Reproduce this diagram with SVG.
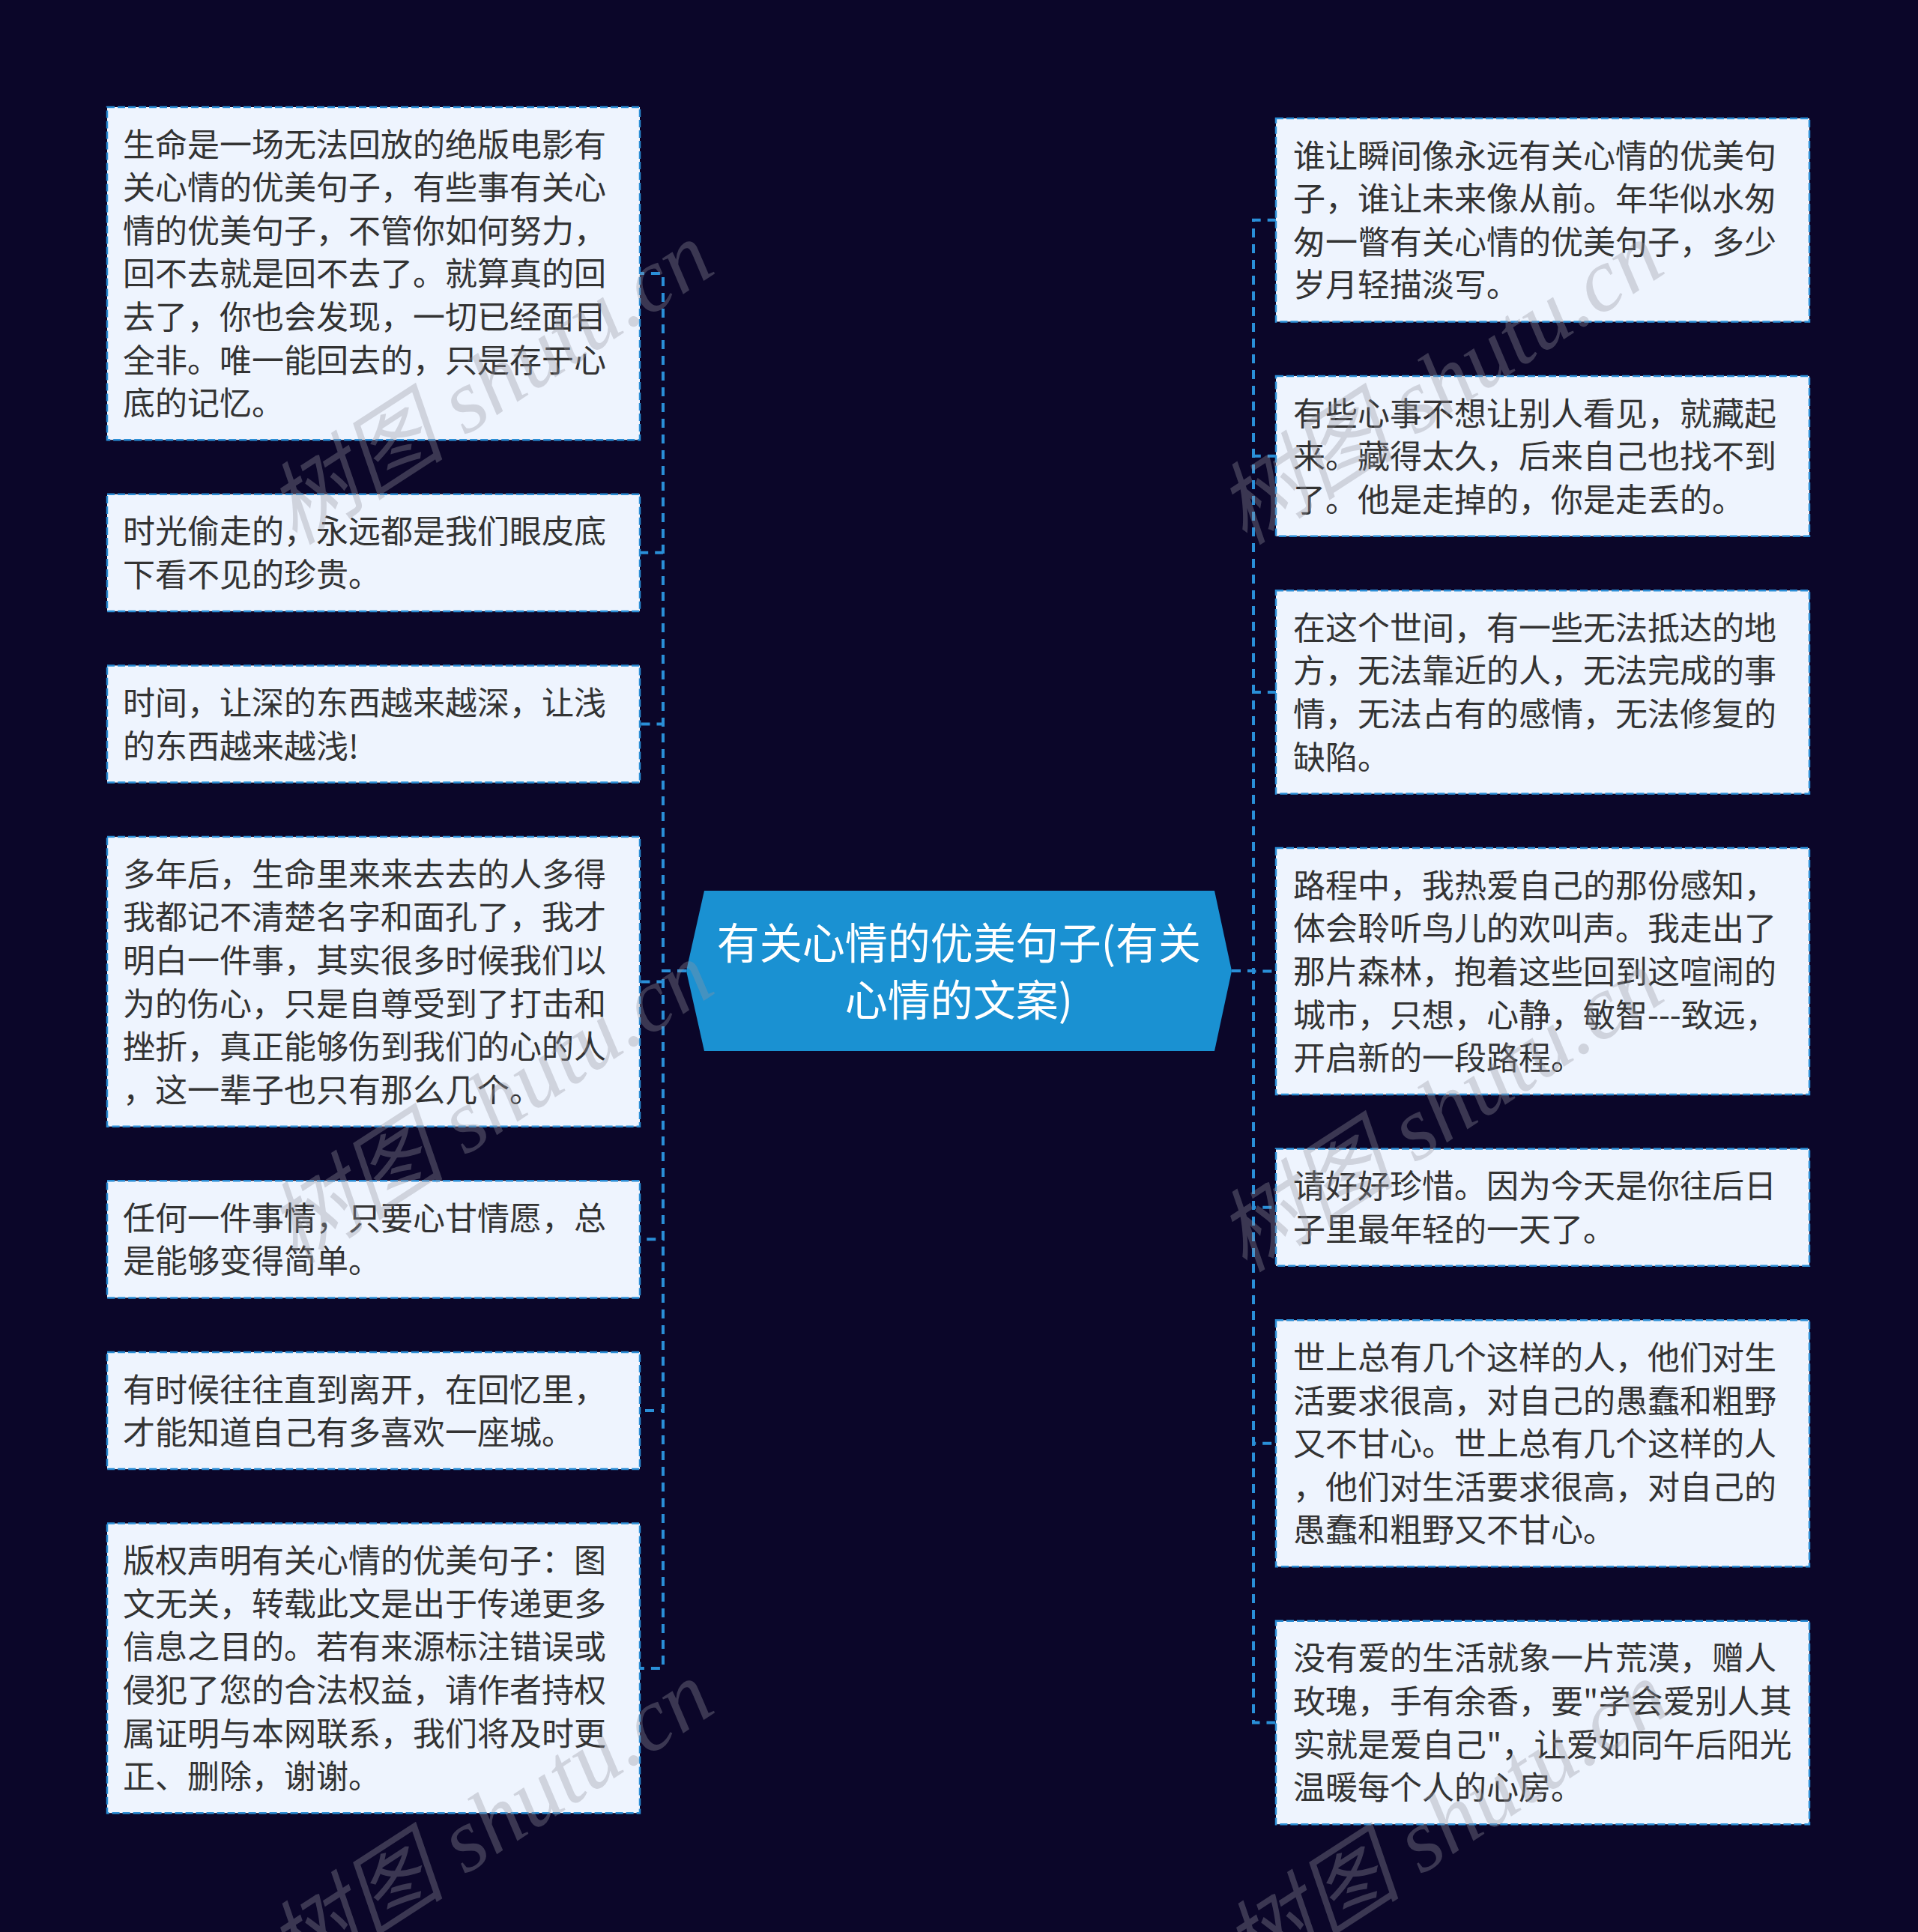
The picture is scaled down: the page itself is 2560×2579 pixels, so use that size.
<svg xmlns="http://www.w3.org/2000/svg" width="2560" height="2579" viewBox="0 0 2560 2579">
<style>
.bg{fill:#0b0629}
.box{fill:#eef4fe;stroke:#2b8ed6;stroke-width:2.5;stroke-dasharray:10 4}
.t{font-family:"Noto Sans CJK SC","Noto Sans",sans-serif;font-size:43px;fill:#333333}
.conn{fill:none;stroke:#2a8fd8;stroke-width:4;stroke-dasharray:12 9}
.ct{font-family:"Noto Sans CJK SC","Noto Sans",sans-serif;font-size:57px;fill:#ffffff;text-anchor:middle}
.wm{font-family:"Liberation Serif","Noto Sans CJK SC",serif;font-style:italic;font-size:120px;fill:#9696a0;fill-opacity:0.35}
</style>
<rect class="bg" x="0" y="0" width="2560" height="2579"/>
<g id="connectors">
<path class="conn" d="M916,1296 H885 V365.1 H854"/>
<path class="conn" d="M916,1296 H885 V737.8 H854"/>
<path class="conn" d="M916,1296 H885 V966.5 H854"/>
<path class="conn" d="M916,1296 H885 V1310.4 H854"/>
<path class="conn" d="M916,1296 H885 V1654.3 H854"/>
<path class="conn" d="M916,1296 H885 V1883 H854"/>
<path class="conn" d="M916,1296 H885 V2226.9 H854"/>
<path class="conn" d="M1644,1296 H1673 V293.7 H1703"/>
<path class="conn" d="M1644,1296 H1673 V608.8 H1703"/>
<path class="conn" d="M1644,1296 H1673 V923.9 H1703"/>
<path class="conn" d="M1644,1296 H1673 V1296.6 H1703"/>
<path class="conn" d="M1644,1296 H1673 V1611.7 H1703"/>
<path class="conn" d="M1644,1296 H1673 V1926.8 H1703"/>
<path class="conn" d="M1644,1296 H1673 V2299.5 H1703"/>
</g>
<g id="center">
<polygon points="940,1189 1621,1189 1644,1296 1621,1403 940,1403 916,1296" fill="#1a91d2"/>
<text class="ct"><tspan x="1280" y="1280">有关心情的优美句子(有关</tspan><tspan x="1280" y="1356">心情的文案)</tspan></text>
</g>
<g id="left1">
<rect class="box" x="143" y="143" width="711" height="444.2"/>
<text class="t"><tspan x="164" y="208.6">生命是一场无法回放的绝版电影有</tspan><tspan x="164" y="266.2">关心情的优美句子，有些事有关心</tspan><tspan x="164" y="323.8">情的优美句子，不管你如何努力，</tspan><tspan x="164" y="381.4">回不去就是回不去了。就算真的回</tspan><tspan x="164" y="439">去了，你也会发现，一切已经面目</tspan><tspan x="164" y="496.6">全非。唯一能回去的，只是存于心</tspan><tspan x="164" y="554.2">底的记忆。</tspan></text>
</g>
<g id="left2">
<rect class="box" x="143" y="659.7" width="711" height="156.2"/>
<text class="t"><tspan x="164" y="725.3">时光偷走的，永远都是我们眼皮底</tspan><tspan x="164" y="782.9">下看不见的珍贵。</tspan></text>
</g>
<g id="left3">
<rect class="box" x="143" y="888.4" width="711" height="156.2"/>
<text class="t"><tspan x="164" y="954">时间，让深的东西越来越深，让浅</tspan><tspan x="164" y="1011.6">的东西越来越浅!</tspan></text>
</g>
<g id="left4">
<rect class="box" x="143" y="1117.1" width="711" height="386.6"/>
<text class="t"><tspan x="164" y="1182.7">多年后，生命里来来去去的人多得</tspan><tspan x="164" y="1240.3">我都记不清楚名字和面孔了，我才</tspan><tspan x="164" y="1297.9">明白一件事，其实很多时候我们以</tspan><tspan x="164" y="1355.5">为的伤心，只是自尊受到了打击和</tspan><tspan x="164" y="1413.1">挫折，真正能够伤到我们的心的人</tspan><tspan x="164" y="1470.7">，这一辈子也只有那么几个。</tspan></text>
</g>
<g id="left5">
<rect class="box" x="143" y="1576.2" width="711" height="156.2"/>
<text class="t"><tspan x="164" y="1641.8">任何一件事情，只要心甘情愿，总</tspan><tspan x="164" y="1699.4">是能够变得简单。</tspan></text>
</g>
<g id="left6">
<rect class="box" x="143" y="1804.9" width="711" height="156.2"/>
<text class="t"><tspan x="164" y="1870.5">有时候往往直到离开，在回忆里，</tspan><tspan x="164" y="1928.1">才能知道自己有多喜欢一座城。</tspan></text>
</g>
<g id="left7">
<rect class="box" x="143" y="2033.6" width="711" height="386.6"/>
<text class="t"><tspan x="164" y="2099.2">版权声明有关心情的优美句子：图</tspan><tspan x="164" y="2156.8">文无关，转载此文是出于传递更多</tspan><tspan x="164" y="2214.4">信息之目的。若有来源标注错误或</tspan><tspan x="164" y="2272">侵犯了您的合法权益，请作者持权</tspan><tspan x="164" y="2329.6">属证明与本网联系，我们将及时更</tspan><tspan x="164" y="2387.2">正、删除，谢谢。</tspan></text>
</g>
<g id="right1">
<rect class="box" x="1703" y="158" width="712" height="271.4"/>
<text class="t"><tspan x="1726" y="223.6">谁让瞬间像永远有关心情的优美句</tspan><tspan x="1726" y="281.2">子，谁让未来像从前。年华似水匆</tspan><tspan x="1726" y="338.8">匆一瞥有关心情的优美句子，多少</tspan><tspan x="1726" y="396.4">岁月轻描淡写。</tspan></text>
</g>
<g id="right2">
<rect class="box" x="1703" y="501.9" width="712" height="213.8"/>
<text class="t"><tspan x="1726" y="567.5">有些心事不想让别人看见，就藏起</tspan><tspan x="1726" y="625.1">来。藏得太久，后来自己也找不到</tspan><tspan x="1726" y="682.7">了。他是走掉的，你是走丢的。</tspan></text>
</g>
<g id="right3">
<rect class="box" x="1703" y="788.2" width="712" height="271.4"/>
<text class="t"><tspan x="1726" y="853.8">在这个世间，有一些无法抵达的地</tspan><tspan x="1726" y="911.4">方，无法靠近的人，无法完成的事</tspan><tspan x="1726" y="969">情，无法占有的感情，无法修复的</tspan><tspan x="1726" y="1026.6">缺陷。</tspan></text>
</g>
<g id="right4">
<rect class="box" x="1703" y="1132.1" width="712" height="329"/>
<text class="t"><tspan x="1726" y="1197.7">路程中，我热爱自己的那份感知，</tspan><tspan x="1726" y="1255.3">体会聆听鸟儿的欢叫声。我走出了</tspan><tspan x="1726" y="1312.9">那片森林，抱着这些回到这喧闹的</tspan><tspan x="1726" y="1370.5">城市，只想，心静，敏智---致远，</tspan><tspan x="1726" y="1428.1">开启新的一段路程。</tspan></text>
</g>
<g id="right5">
<rect class="box" x="1703" y="1533.6" width="712" height="156.2"/>
<text class="t"><tspan x="1726" y="1599.2">请好好珍惜。因为今天是你往后日</tspan><tspan x="1726" y="1656.8">子里最年轻的一天了。</tspan></text>
</g>
<g id="right6">
<rect class="box" x="1703" y="1762.3" width="712" height="329"/>
<text class="t"><tspan x="1726" y="1827.9">世上总有几个这样的人，他们对生</tspan><tspan x="1726" y="1885.5">活要求很高，对自己的愚蠢和粗野</tspan><tspan x="1726" y="1943.1">又不甘心。世上总有几个这样的人</tspan><tspan x="1726" y="2000.7">，他们对生活要求很高，对自己的</tspan><tspan x="1726" y="2058.3">愚蠢和粗野又不甘心。</tspan></text>
</g>
<g id="right7">
<rect class="box" x="1703" y="2163.8" width="712" height="271.4"/>
<text class="t"><tspan x="1726" y="2229.4">没有爱的生活就象一片荒漠，赠人</tspan><tspan x="1726" y="2287">玫瑰，手有余香，要"学会爱别人其</tspan><tspan x="1726" y="2344.6">实就是爱自己"，让爱如同午后阳光</tspan><tspan x="1726" y="2402.2">温暖每个人的心房。</tspan></text>
</g>
<g id="watermarks">
<text class="wm" transform="translate(394,729) rotate(-33)">树图 shutu.cn</text>
<text class="wm" transform="translate(1662,729) rotate(-33)">树图 shutu.cn</text>
<text class="wm" transform="translate(394,1690) rotate(-33)">树图 shutu.cn</text>
<text class="wm" transform="translate(1662,1700) rotate(-33)">树图 shutu.cn</text>
<text class="wm" transform="translate(394,2650) rotate(-33)">树图 shutu.cn</text>
<text class="wm" transform="translate(1670,2650) rotate(-33)">树图 shutu.cn</text>
</g>
</svg>
